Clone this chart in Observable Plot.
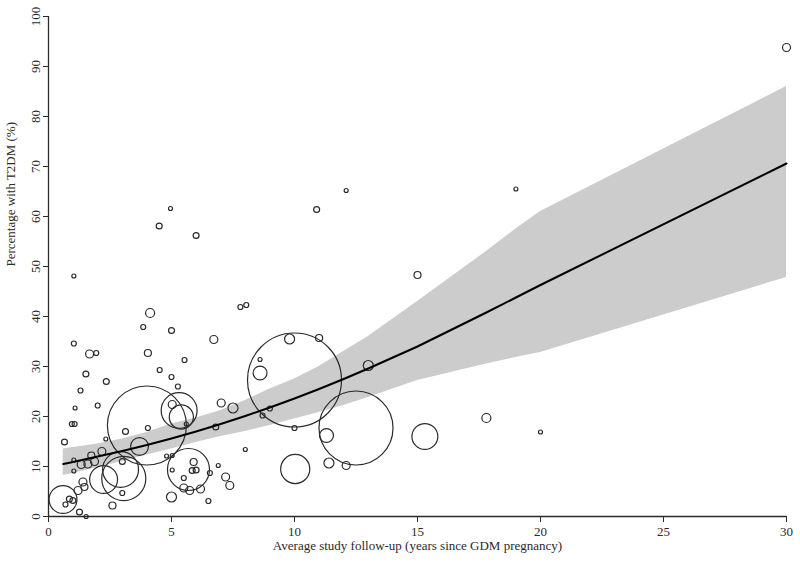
<!DOCTYPE html>
<html>
<head>
<meta charset="utf-8">
<script src="https://cdn.jsdelivr.net/npm/d3@7"></script>
<script src="https://cdn.jsdelivr.net/npm/@observablehq/plot@0.6"></script>
<style>
  html, body { margin: 0; padding: 0; background: #fff; }
  #chart svg { display: block; }
</style>
</head>
<body>
<div id="chart"></div>
<script>
// Study bubbles: average follow-up (years), % with T2DM, study weight
const followUp = [4.0, 10.0, 12.5, 5.31, 5.4, 5.69, 3.06, 2.24, 2.93, 0.59, 3.7, 10.03, 15.3,
  12.1, 11.4, 11.3, 8.6, 8.6, 9.8, 11.0, 10.0, 9.0, 8.7, 13.0, 8.0, 19.0, 15.0, 17.8, 20.0, 30.0,
  12.1, 10.9, 4.96, 4.5, 6.0, 1.03, 4.13, 3.85, 5.0, 1.03, 1.67, 1.94, 4.04, 1.52, 4.52, 2.35, 5.0,
  7.8, 8.04, 6.72, 5.53, 5.26, 7.02, 7.5, 5.03, 6.8, 5.6, 5.9, 5.84, 6.0, 5.03, 5.5, 6.56, 6.9,
  7.2, 7.37, 5.0, 5.5, 5.74, 6.18, 6.5, 5.03, 1.3, 1.08, 2.0, 0.95, 1.06, 0.65, 3.13, 4.04, 1.03,
  1.33, 1.6, 1.87, 2.17, 1.74, 3.0, 1.03, 1.2, 1.4, 1.46, 0.85, 0.99, 0.69, 3.0, 2.6, 1.26, 1.53,
  2.33, 4.8];
const pctT2DM = [18.2, 27.3, 17.7, 21.2, 19.9, 9.4, 7.6, 7.4, 9.4, 3.4, 14.0, 9.5, 16.0,
  10.2, 10.7, 16.2, 28.7, 31.4, 35.5, 35.7, 17.7, 21.6, 20.2, 30.2, 13.4, 65.5, 48.3, 19.7, 16.9, 93.8,
  65.2, 61.4, 61.6, 58.1, 56.2, 48.1, 40.7, 37.9, 37.2, 34.6, 32.5, 32.7, 32.7, 28.5, 29.3, 27.0, 27.9,
  41.9, 42.3, 35.4, 31.3, 26.0, 22.7, 21.7, 22.4, 17.9, 18.5, 10.9, 9.2, 9.3, 9.3, 7.7, 8.7, 10.2,
  7.9, 6.2, 3.9, 5.7, 5.2, 5.5, 3.1, 12.2, 25.2, 21.7, 22.2, 18.5, 18.5, 14.9, 17.0, 17.7, 11.3,
  10.4, 10.5, 11.0, 13.0, 12.2, 11.0, 9.1, 5.2, 6.9, 5.9, 3.5, 3.2, 2.4, 4.7, 2.2, 0.9, 0.0,
  15.5, 12.1];
const weight = [35.3, 50, 31, 7.3, 3.3, 10, 11, 4.4, 7.3, 4.4, 1.8, 4.8, 3.8,
  0.36, 0.57, 1.1, 1.1, 0.09, 0.57, 0.28, 0.14, 0.14, 0.14, 0.57, 0.09, 0.09, 0.28, 0.46, 0.09, 0.36,
  0.09, 0.2, 0.09, 0.2, 0.2, 0.09, 0.46, 0.14, 0.2, 0.14, 0.36, 0.14, 0.28, 0.2, 0.14, 0.2, 0.14,
  0.14, 0.14, 0.36, 0.14, 0.14, 0.36, 0.57, 0.36, 0.2, 0.09, 0.28, 0.2, 0.2, 0.09, 0.14, 0.14, 0.09,
  0.36, 0.36, 0.57, 0.36, 0.36, 0.36, 0.14, 0.09, 0.14, 0.09, 0.14, 0.14, 0.14, 0.2, 0.2, 0.14, 0.09,
  0.36, 0.36, 0.36, 0.36, 0.28, 0.2, 0.09, 0.36, 0.36, 0.28, 0.2, 0.2, 0.14, 0.14, 0.28, 0.2, 0.09,
  0.09, 0.09];

// Fitted meta-regression curve and 95% confidence band
const fitX     = [0.6, 1, 2, 3, 4, 5, 6, 7, 8, 9, 10, 11, 12, 13, 14, 15, 17.8, 19, 20, 30];
const fitLine  = [10.5, 10.9, 12.0, 13.1, 14.3, 15.6, 17.0, 18.5, 20.1, 21.8, 23.6, 25.5, 27.5, 29.6, 31.8, 34.0, 40.8, 43.8, 46.3, 70.6];
const fitUpper = [13.5, 13.8, 14.5, 15.5, 16.8, 18.5, 19.7, 21.2, 23.2, 25.5, 27.5, 30.0, 33.0, 36.0, 39.5, 43.0, 53.0, 57.5, 61.0, 86.0];
const fitLower = [8.2, 8.6, 9.8, 11.0, 12.3, 13.5, 14.8, 16.0, 17.0, 18.2, 19.5, 20.8, 22.2, 23.8, 25.5, 27.2, 30.5, 31.8, 32.8, 47.8];

const xTicks = [0, 5, 10, 15, 20, 25, 30];
const yTicks = [0, 10, 20, 30, 40, 50, 60, 70, 80, 90, 100];
const xTitle = "Average study follow-up (years since GDM pregnancy)";
const yTitle = "Percentage with T2DM (%)";

const studies = followUp.map((x, i) => ({x, y: pctT2DM[i], w: weight[i]}))
  .sort((a, b) => b.w - a.w);
const fit = fitX.map((x, i) => ({x, y: fitLine[i], lo: fitLower[i], hi: fitUpper[i]}));

const ink = "#2a2a2a";
const chart = Plot.plot({
  width: 800,
  height: 563,
  marginLeft: 48,
  marginRight: 14,
  marginTop: 16,
  marginBottom: 47,
  style: {fontFamily: "'Liberation Serif', 'DejaVu Serif', serif", fontSize: "13px", color: ink, background: "#fff"},
  x: {domain: [0, 30]},
  y: {domain: [0, 100]},
  r: {domain: [0, 50], range: [0, 47]},
  marks: [
    Plot.areaY(fit, {x: "x", y1: "lo", y2: "hi", fill: "#cccccc"}),
    Plot.dot(studies, {x: "x", y: "y", r: "w", stroke: ink, strokeWidth: 1.2, fill: "none"}),
    Plot.line(fit, {x: "x", y: "y", stroke: "#000", strokeWidth: 2}),
    Plot.ruleY([0], {x1: 0, x2: 30, stroke: ink, strokeWidth: 1.3}),
    Plot.ruleX([0], {y1: 0, y2: 100, stroke: ink, strokeWidth: 1.3}),
    Plot.axisX({ticks: xTicks, tickSize: 6, tickPadding: 4, label: null, fontSize: 13, stroke: ink}),
    Plot.axisY({ticks: yTicks, tickSize: 5, tickPadding: 4, tickRotate: -90, label: null, fontSize: 13, stroke: ink}),
    Plot.text([xTitle], {frameAnchor: "bottom", dy: 33, fontSize: 13, fill: ink}),
    Plot.text([yTitle], {frameAnchor: "left", dx: -38, rotate: -90, fontSize: 13, fill: ink})
  ]
});
document.getElementById("chart").appendChild(chart);
</script>
</body>
</html>
